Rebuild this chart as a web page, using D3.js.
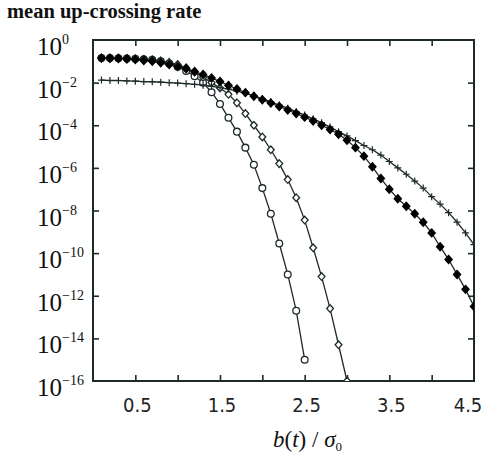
<!DOCTYPE html>
<html>
<head>
<meta charset="utf-8">
<script src="https://cdn.jsdelivr.net/npm/d3@7"></script>
<style>
body { margin: 0; background: #fff; }
svg { display: block; }
</style>
</head>
<body>
<script>
var width = 482
var height = 457
var plotLeft = 93, plotRight = 474, plotTop = 40, plotBottom = 381
var ink = '#1e2a2a'

// b(t)/sigma0 sample positions
var bSteps = [0.1, 0.2, 0.3, 0.4, 0.5, 0.6, 0.7, 0.8, 0.9, 1.0,
    1.1, 1.2, 1.3, 1.4, 1.5, 1.6, 1.7, 1.8, 1.9, 2.0,
    2.1, 2.2, 2.3, 2.4, 2.5, 2.6, 2.7, 2.8, 2.9, 3.0,
    3.1, 3.2, 3.3, 3.4, 3.5, 3.6, 3.7, 3.8, 3.9, 4.0,
    4.1, 4.2, 4.3, 4.4, 4.5]

// log10 of mean up-crossing rate
var circleLog = [-0.85, -0.85, -0.86, -0.87, -0.88, -0.9, -0.93, -1.0, -1.1, -1.25,
    -1.45, -1.7, -2.0, -2.45, -3.0, -3.65, -4.3, -5.05, -5.85, -6.95,
    -8.15, -9.55, -11.0, -12.7, -15.0]
var openDiamondLog = [-0.85, -0.85, -0.86, -0.87, -0.88, -0.9, -0.93, -0.98, -1.05, -1.15,
    -1.3, -1.5, -1.75, -2.0, -2.25, -2.55, -2.95, -3.45, -4.0, -4.55,
    -5.15, -5.8, -6.55, -7.4, -8.45, -9.75, -11.1, -12.6, -14.3, -16.0]
var filledDiamondLog = [-0.85, -0.86, -0.87, -0.89, -0.92, -0.96, -1.0, -1.07, -1.15, -1.25,
    -1.35, -1.48, -1.62, -1.78, -1.95, -2.13, -2.3, -2.47, -2.64, -2.8,
    -2.96, -3.12, -3.28, -3.45, -3.62, -3.8, -4.0, -4.2, -4.42, -4.7,
    -5.05, -5.45, -5.95, -6.5, -7.0, -7.45, -7.8, -8.15, -8.55, -9.05,
    -9.7, -10.3, -11.0, -11.7, -12.5]
var plusLog = [-1.88, -1.9, -1.9, -1.92, -1.93, -1.95, -1.96, -1.98, -2.0, -2.02,
    -2.05, -2.08, -2.12, -2.17, -2.23, -2.3, -2.4, -2.5, -2.62, -2.75,
    -2.9, -3.05, -3.2, -3.36, -3.52, -3.7, -3.88, -4.08, -4.3, -4.5,
    -4.72, -4.95, -5.15, -5.4, -5.7, -6.0, -6.3, -6.62, -6.95, -7.35,
    -7.7, -8.1, -8.55, -9.05, -9.6]

var xTicks = [0.5, 1, 1.5, 2, 2.5, 3, 3.5, 4]
var xLabels = ['0.5', '1.5', '2.5', '3.5', '4.5']
var yExponents = [0, -2, -4, -6, -8, -10, -12, -14, -16]

var x = d3.scaleLinear().domain([0, 4.5]).range([plotLeft, plotRight])
var y = d3.scaleLog().domain([1, 1e-16]).range([plotTop, plotBottom])

var svg = d3.select('body').append('svg')
    .attr('width', width)
    .attr('height', height)

svg.append('defs').append('clipPath').attr('id', 'plot-clip')
    .append('rect')
    .attr('x', plotLeft).attr('y', plotTop)
    .attr('width', plotRight - plotLeft).attr('height', plotBottom - plotTop)

// title
svg.append('text')
    .attr('x', 7)
    .attr('y', 18)
    .attr('font-family', 'Liberation Serif, Times New Roman, serif')
    .attr('font-weight', 'bold')
    .attr('font-size', 20.5)
    .attr('fill', '#111')
    .text('mean up-crossing rate')

// inward ticks on all four sides
function noDomain(g) {
    g.select('.domain').remove()
    g.selectAll('.tick line').attr('stroke', ink).attr('stroke-width', 1.6)
}
svg.append('g').attr('transform', 'translate(0,' + plotBottom + ')')
    .call(d3.axisBottom(x).tickValues(xTicks).tickSize(-6).tickFormat(''))
    .call(noDomain)
svg.append('g').attr('transform', 'translate(0,' + plotTop + ')')
    .call(d3.axisTop(x).tickValues(xTicks).tickSize(-6).tickFormat(''))
    .call(noDomain)
var yTickVals = yExponents.slice(1, -1).map(function (e) { return Math.pow(10, e) })
svg.append('g').attr('transform', 'translate(' + plotLeft + ',0)')
    .call(d3.axisLeft(y).tickValues(yTickVals).tickSize(-6).tickFormat(''))
    .call(noDomain)
svg.append('g').attr('transform', 'translate(' + plotRight + ',0)')
    .call(d3.axisRight(y).tickValues(yTickVals).tickSize(-6).tickFormat(''))
    .call(noDomain)

// frame
svg.append('rect')
    .attr('x', plotLeft).attr('y', plotTop)
    .attr('width', plotRight - plotLeft).attr('height', plotBottom - plotTop)
    .attr('fill', 'none')
    .attr('stroke', ink)
    .attr('stroke-width', 2)

// y labels 10^n
var yLab = svg.append('g')
    .attr('font-family', 'Liberation Serif, Times New Roman, serif')
    .attr('fill', '#111')
    .selectAll('text')
    .data(yExponents)
    .enter()
    .append('text')
    .attr('x', 37)
    .attr('y', function (d) { return y(Math.pow(10, d)) + 15 })
    .attr('font-size', 25)
yLab.append('tspan').text('10')
yLab.append('tspan')
    .attr('font-size', 14)
    .attr('dy', -11)
    .text(function (d) { return d === 0 ? '0' : '\u2212' + (-d) })

// x labels
svg.append('g')
    .attr('font-family', 'DejaVu Sans Condensed, DejaVu Sans, sans-serif')
    .attr('font-stretch', 'condensed')
    .attr('font-size', 20)
    .attr('fill', '#222')
    .selectAll('text')
    .data(xLabels)
    .enter()
    .append('text')
    .attr('text-anchor', 'middle')
    .attr('x', function (d) { return Math.min(x(+d) + 2, 468) })
    .attr('y', 412)
    .text(function (d) { return d })

// x axis title b(t) / sigma_0
var xt = svg.append('text')
    .attr('x', 273)
    .attr('y', 447)
    .attr('font-family', 'Liberation Serif, Times New Roman, serif')
    .attr('font-size', 23)
    .attr('fill', '#111')
xt.append('tspan').attr('font-style', 'italic').text('b')
xt.append('tspan').text('(')
xt.append('tspan').attr('font-style', 'italic').text('t')
xt.append('tspan').text(') / ')
xt.append('tspan').attr('font-style', 'italic').text('\u03c3')
xt.append('tspan').attr('font-size', 13).attr('dy', 4).text('0')

// series, filled diamonds drawn last so they sit on top
var series = [
    { values: circleLog, marker: 'circle' },
    { values: openDiamondLog, marker: 'openDiamond' },
    { values: plusLog, marker: 'plus' },
    { values: filledDiamondLog, marker: 'filledDiamond' }
]

var line = d3.line()
    .x(function (d) { return x(d.b) })
    .y(function (d) { return y(Math.pow(10, d.v)) })

var markerPaths = {
    plus: 'M-3.5,0H3.5M0,-3.5V3.5',
    filledDiamond: 'M0,-4L3.6,0L0,4L-3.6,0Z',
    openDiamond: 'M0,-3.8L3.4,0L0,3.8L-3.4,0Z',
    circle: d3.symbol(d3.symbolCircle, 36)()
}

var plot = svg.append('g').attr('clip-path', 'url(#plot-clip)')

series.forEach(function (s) {
    var pts = s.values.map(function (v, i) { return { b: bSteps[i], v: v } })
    var g = plot.append('g')
    g.append('path')
        .datum(pts)
        .attr('d', line)
        .attr('fill', 'none')
        .attr('stroke', ink)
        .attr('stroke-width', 1.3)
    g.selectAll('path.mk')
        .data(pts)
        .enter()
        .append('path')
        .attr('class', 'mk')
        .attr('transform', function (d) { return 'translate(' + x(d.b) + ',' + y(Math.pow(10, d.v)) + ')' })
        .attr('d', markerPaths[s.marker])
        .attr('fill', s.marker === 'filledDiamond' ? '#000' : (s.marker === 'plus' ? 'none' : '#fff'))
        .attr('stroke', s.marker === 'filledDiamond' ? '#000' : ink)
        .attr('stroke-width', s.marker === 'plus' ? 1.2 : 1.3)
})
</script>
</body>
</html>
